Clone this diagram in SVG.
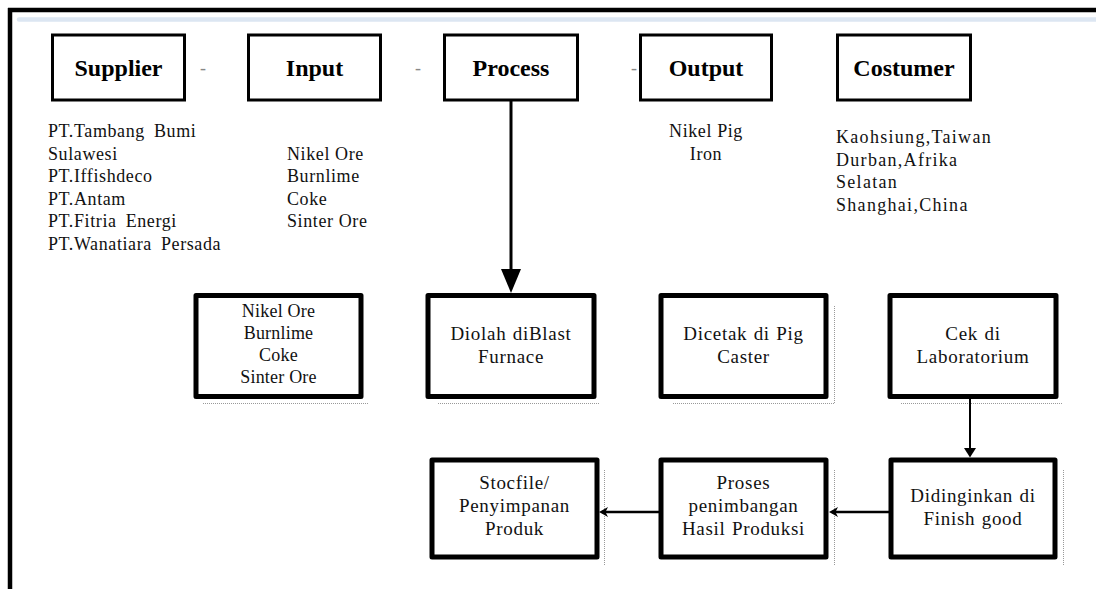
<svg xmlns="http://www.w3.org/2000/svg" width="1096" height="589" viewBox="0 0 1096 589">
<style>
  .hdr { fill: #fff; stroke: #000; stroke-width: 3; }
  .box { fill: #fff; stroke: #000; stroke-width: 5; stroke-linejoin: round; }
  .ht { font-family: "Liberation Serif", "Times New Roman", serif; font-weight: bold; font-size: 24px; fill: #000; text-anchor: middle; }
  .t { font-family: "Liberation Serif", "Times New Roman", serif; font-size: 18px; fill: #111; letter-spacing: 0.6px; word-spacing: 4px; }
  .b { font-family: "Liberation Serif", "Times New Roman", serif; font-size: 19px; fill: #111; letter-spacing: 0.7px; word-spacing: 1px; text-anchor: middle; }
  .b4 { font-family: "Liberation Serif", "Times New Roman", serif; font-size: 18px; fill: #111; letter-spacing: 0.2px; text-anchor: middle; }
  .cl { letter-spacing: 1.3px; }
  .c { text-anchor: middle; }
  .dash { font-family: "Liberation Serif", serif; font-size: 18px; fill: #888; text-anchor: middle; }
  .dot { stroke: #999; stroke-width: 1; stroke-dasharray: 1 1; fill: none; }
  .conn { stroke: #000; fill: none; }
</style>
<rect x="0" y="0" width="1096" height="589" fill="#fff"/>
<g id="frame">
  <line x1="8" y1="10" x2="1096" y2="10" stroke="#000" stroke-width="4.5"/>
  <line x1="10" y1="8" x2="10" y2="589" stroke="#000" stroke-width="4.5"/>
  <line x1="19" y1="19.5" x2="1096" y2="19.5" stroke="#dce6f2" stroke-width="4.5" stroke-linecap="round"/>
</g>

<g id="supplier">
  <rect class="hdr" x="52.5" y="35" width="132" height="65"/>
  <text class="ht" x="118.5" y="76">Supplier</text>
</g>
<g id="input">
  <rect class="hdr" x="248.5" y="35" width="132" height="65"/>
  <text class="ht" x="314.5" y="76">Input</text>
</g>
<g id="process">
  <rect class="hdr" x="444.5" y="35" width="133" height="65"/>
  <text class="ht" x="511" y="76">Process</text>
</g>
<g id="output">
  <rect class="hdr" x="640.5" y="35" width="131" height="65"/>
  <text class="ht" x="706" y="76">Output</text>
</g>
<g id="costumer">
  <rect class="hdr" x="837.5" y="35" width="133" height="65"/>
  <text class="ht" x="904" y="76">Costumer</text>
</g>
<g id="dashes">
  <text class="dash" x="203" y="74">-</text>
  <text class="dash" x="418" y="74">-</text>
  <text class="dash" x="634" y="74">-</text>
</g>

<g id="supplier-list">
  <text class="t" x="48" y="137">PT.Tambang Bumi</text>
  <text class="t" x="48" y="159.5">Sulawesi</text>
  <text class="t" x="48" y="182">PT.Iffishdeco</text>
  <text class="t" x="48" y="204.5">PT.Antam</text>
  <text class="t" x="48" y="227">PT.Fitria Energi</text>
  <text class="t" x="48" y="249.5">PT.Wanatiara Persada</text>
</g>
<g id="input-list">
  <text class="t" x="287" y="159.5" style="word-spacing:0">Nikel Ore</text>
  <text class="t" x="287" y="182">Burnlime</text>
  <text class="t" x="287" y="204.5">Coke</text>
  <text class="t" x="287" y="227" style="word-spacing:0">Sinter Ore</text>
</g>
<g id="output-list">
  <text class="t c" x="706" y="137" style="word-spacing:0">Nikel Pig</text>
  <text class="t c" x="706" y="160">Iron</text>
</g>
<g id="costumer-list">
  <text class="t cl" x="836" y="143">Kaohsiung,Taiwan</text>
  <text class="t cl" x="836" y="165.5">Durban,Afrika</text>
  <text class="t cl" x="836" y="188">Selatan</text>
  <text class="t cl" x="836" y="210.5">Shanghai,China</text>
</g>

<g id="bahan">
  <rect class="box" x="196" y="295.5" width="165" height="101"/>
  <path class="dot" d="M203,403.5 H368"/>
  <text class="b4" x="278.5" y="317">Nikel Ore</text>
  <text class="b4" x="278.5" y="339">Burnlime</text>
  <text class="b4" x="278.5" y="361">Coke</text>
  <text class="b4" x="278.5" y="383">Sinter Ore</text>
</g>
<g id="diolah">
  <rect class="box" x="428" y="295.5" width="166" height="101"/>
  <path class="dot" d="M438,403.5 H600"/>
  <text class="b" x="511" y="340">Diolah diBlast</text>
  <text class="b" x="511" y="363">Furnace</text>
</g>
<g id="dicetak">
  <rect class="box" x="661" y="295.5" width="165" height="101"/>
  <path class="dot" d="M834.5,306 V403.5 H672"/>
  <text class="b" x="743.5" y="340">Dicetak di Pig</text>
  <text class="b" x="743.5" y="363">Caster</text>
</g>
<g id="cek">
  <rect class="box" x="890" y="295.5" width="166" height="101"/>
  <path class="dot" d="M901,403.5 H1063"/>
  <text class="b" x="973" y="340">Cek di</text>
  <text class="b" x="973" y="363">Laboratorium</text>
</g>

<g id="didinginkan">
  <rect class="box" x="891" y="460" width="164" height="97"/>
  <path class="dot" d="M1063.5,470 V565"/>
  <text class="b" x="973" y="502">Didinginkan di</text>
  <text class="b" x="973" y="525">Finish good</text>
</g>
<g id="penimbangan">
  <rect class="box" x="661" y="460" width="165" height="97"/>
  <path class="dot" d="M834.5,470 V565"/>
  <text class="b" x="743.5" y="489">Proses</text>
  <text class="b" x="743.5" y="512">penimbangan</text>
  <text class="b" x="743.5" y="535">Hasil Produksi</text>
</g>
<g id="stocfile">
  <rect class="box" x="432" y="460" width="165" height="97"/>
  <path class="dot" d="M604.5,470 V565"/>
  <text class="b" x="514.5" y="489">Stocfile/</text>
  <text class="b" x="514.5" y="512">Penyimpanan</text>
  <text class="b" x="514.5" y="535">Produk</text>
</g>

<g id="connectors">
  <line class="conn" x1="511" y1="100" x2="511" y2="270" stroke-width="3"/>
  <path d="M501,269 L521,269 L511,293 Z" fill="#000"/>
  <line class="conn" x1="970" y1="397" x2="970" y2="449" stroke-width="2"/>
  <path d="M964,448 L976,448 L970,457.5 Z" fill="#000"/>
  <line class="conn" x1="891" y1="512" x2="832" y2="512" stroke-width="2.5"/>
  <path d="M829,512 L838,507 L835.5,512 L838,517 Z" fill="#000"/>
  <line class="conn" x1="661" y1="512" x2="602" y2="512" stroke-width="2.5"/>
  <path d="M599,512 L608,507 L605.5,512 L608,517 Z" fill="#000"/>
</g>
</svg>
